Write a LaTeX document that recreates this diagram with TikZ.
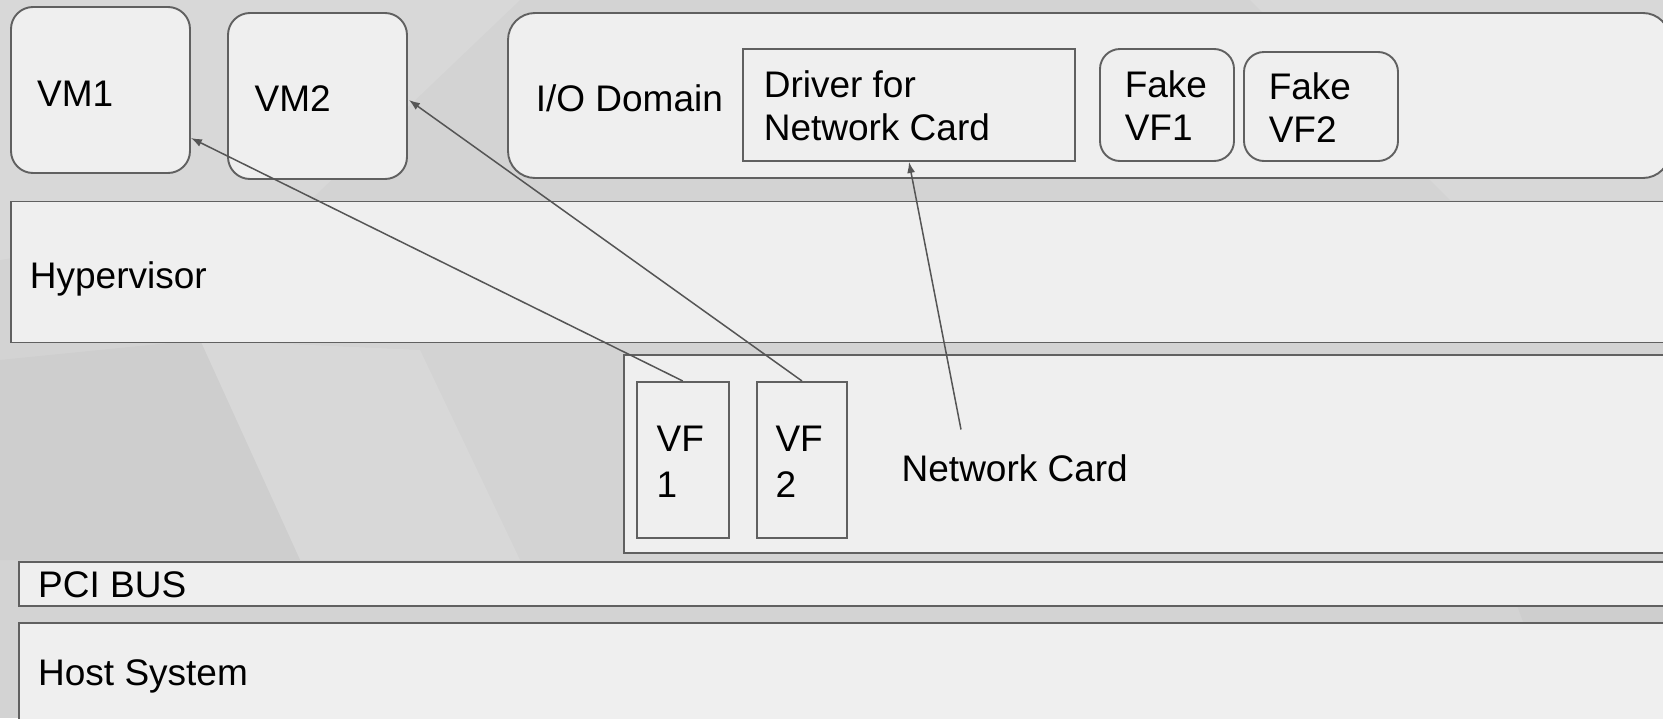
\documentclass[tikz,border=0pt]{standalone}
\usepackage{fontspec}
\setmainfont{Liberation Sans}
\usetikzlibrary{arrows.meta}
\definecolor{bgbase}{HTML}{D3D3D3}
\definecolor{bglight}{HTML}{D8D8D8}
\definecolor{bgdark}{HTML}{CECECE}
\definecolor{boxfill}{HTML}{EFEFEF}
\definecolor{boxline}{HTML}{606060}
\definecolor{arrowline}{HTML}{555555}
\tikzset{
  layer/.style={draw=boxline, fill=boxfill, line width=1.9pt, inner sep=0pt, rectangle},
  roundlayer/.style={layer, rounded corners=#1},
  lbl/.style={anchor=base west, inner sep=0pt, font=\fontsize{37}{43}\selectfont, text=black},
  link/.style={draw=arrowline, line width=1.5pt, -{Latex[length=11pt,width=8pt]}},
}
\begin{document}
\begin{tikzpicture}[x=1pt,y=-1pt]
\useasboundingbox (0,0) rectangle (1663,718);
\clip (0,0) rectangle (1663,718);

% backdrop with faint facets
\fill[bgbase] (0,0) rectangle (1663,718);
\fill[bglight] (0,0) -- (520,0) -- (300,210) -- (0,260) -- cycle;
\fill[bglight] (200,340) -- (420,350) -- (520,560) -- (300,560) -- cycle;
\fill[bgdark] (0,360) -- (200,340) -- (300,560) -- (0,560) -- cycle;
\fill[bglight] (1250,0) -- (1663,0) -- (1663,200) -- (1450,200) -- cycle;
\fill[bgdark] (1500,560) -- (1663,560) -- (1663,720) -- (1560,720) -- cycle;

% virtual machines
\node[roundlayer=22pt, minimum width=179pt, minimum height=166pt] (vm1) at (100.5,90) {};
\node[roundlayer=22pt, minimum width=179pt, minimum height=166pt] (vm2) at (317.5,96) {};
\node[lbl] (vm1t) at (37,106.5) {VM1};
\node[lbl] (vm2t) at (254.5,111) {VM2};

% I/O domain and its contents
\node[roundlayer=27pt, minimum width=1162pt, minimum height=165pt] (iod) at (1089,95.5) {};
\node[lbl] (iodt) at (535.6,111) {I/O Domain};
\node[layer, minimum width=332pt, minimum height=112pt] (drv) at (909,105) {};
\node[lbl] (drva) at (763.6,97.5) {Driver for};
\node[lbl] (drvb) at (763.6,140.5) {Network Card};
\node[roundlayer=20pt, minimum width=134pt, minimum height=112pt] (fvf1) at (1167,105) {};
\node[lbl] (fvf1a) at (1124.6,97.5) {Fake};
\node[lbl] (fvf1b) at (1124.6,140.5) {VF1};
\node[roundlayer=20pt, minimum width=154pt, minimum height=109pt] (fvf2) at (1321,106.5) {};
\node[lbl] (fvf2a) at (1268.6,99.5) {Fake};
\node[lbl] (fvf2b) at (1268.6,142.5) {VF2};

% hypervisor
\node[layer, minimum width=1680pt, minimum height=141pt] (hyp) at (850.6,272) {};
\node[lbl] (hypt) at (29.7,288) {Hypervisor};

% network card with virtual functions
\node[layer, minimum width=1060pt, minimum height=197.6pt] (nic) at (1153.6,453.8) {};
\node[lbl] (nict) at (901.5,481) {Network Card};
\node[layer, minimum width=91.6pt, minimum height=155.7pt] (vf1) at (682.8,459.8) {};
\node[lbl] (vf1a) at (656.5,451.5) {VF};
\node[lbl] (vf1b) at (656.5,497) {1};
\node[layer, minimum width=90pt, minimum height=155.7pt] (vf2) at (802,459.8) {};
\node[lbl] (vf2a) at (775.3,451.5) {VF};
\node[lbl] (vf2b) at (775.3,497) {2};

% bus and host
\node[layer, minimum width=1680pt, minimum height=43.6pt] (pci) at (859,583.8) {};
\node[lbl] (pcit) at (38,597.5) {PCI BUS};
\node[layer, minimum width=1680pt, minimum height=120pt] (host) at (859,682.6) {};
\node[lbl] (hostt) at (38,685.5) {Host System};

% mappings
\coordinate (nicsrc) at (961,429.5);
\draw[link] (vf1.north) -- ([yshift=-48pt]vm1.east);
\draw[link] (vf2.north) -- ([xshift=1pt,yshift=-4pt]vm2.east);
\draw[link] (nicsrc) -- (drv.south);
\end{tikzpicture}
\end{document}
